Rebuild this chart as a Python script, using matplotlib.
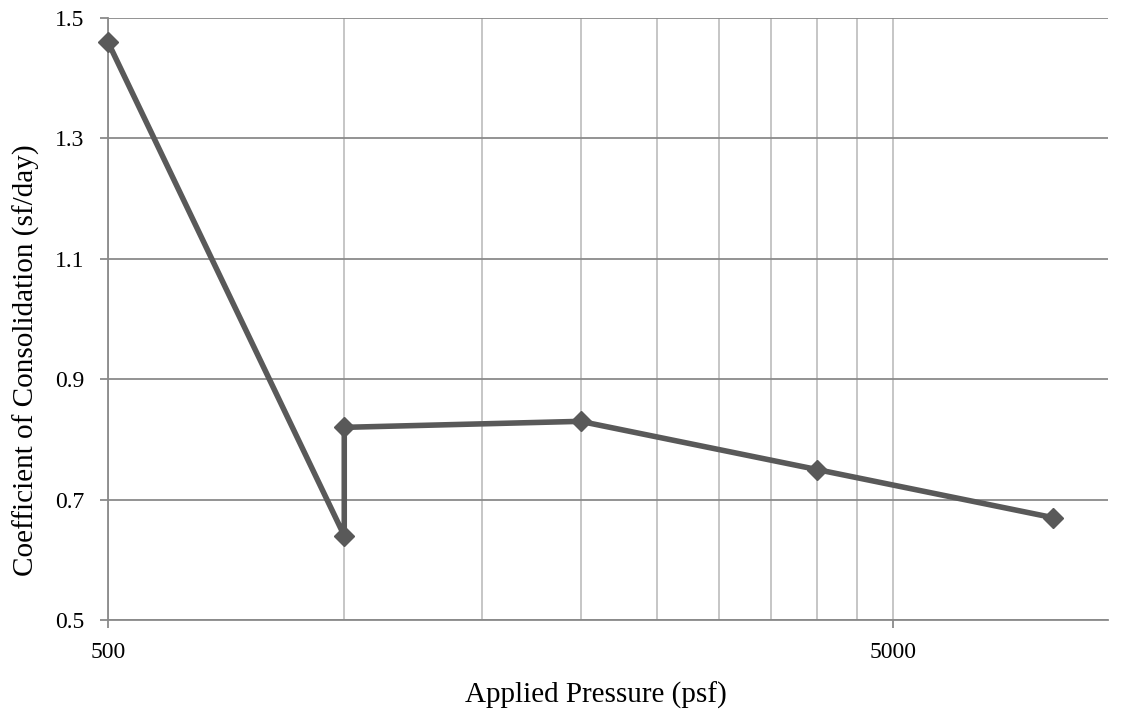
import numpy as np
import matplotlib.pyplot as plt
from matplotlib.ticker import FixedLocator, NullFormatter

# consolidation test results
pressure = [500, 1000, 1000, 2000, 4000, 8000]   # psf
cv = [1.46, 0.64, 0.82, 0.83, 0.75, 0.67]         # sf/day

xmajor = [500, 5000]
xminor = [1000, 1500, 2000, 2500, 3000, 3500, 4000, 4500]
yticks = [0.5, 0.7, 0.9, 1.1, 1.3, 1.5]

plt.rcParams['font.family'] = ['Liberation Serif', 'DejaVu Serif']

fig = plt.figure(figsize=(11.25, 7.17), dpi=100)
ax = fig.add_axes([108/1125, 1 - 620/717, 1000/1125, 602/717])

ax.set_xscale('log')
ax.set_xlim(500, 9400)
ax.set_ylim(0.5, 1.5)

ax.xaxis.set_major_locator(FixedLocator(xmajor))
ax.xaxis.set_minor_locator(FixedLocator(xminor))
ax.xaxis.set_major_formatter(plt.FixedFormatter(['500', '5000']))
ax.xaxis.set_minor_formatter(NullFormatter())
ax.set_yticks(yticks)
ax.set_yticklabels(['%.1f' % v for v in yticks])

# gridlines
ax.grid(True, axis='y', color='#8a8a8a', linewidth=1.3)
ax.grid(True, axis='x', which='both', color='#c2c2c2', linewidth=1.3)
ax.set_axisbelow(True)

for s in ['top', 'right']:
    ax.spines[s].set_visible(False)
for s in ['left', 'bottom']:
    ax.spines[s].set_color('#8a8a8a')
    ax.spines[s].set_linewidth(1.3)

ax.tick_params(axis='both', which='major', direction='out', length=6,
               width=1.3, color='#8a8a8a', labelsize=17)
ax.tick_params(axis='y', which='major', pad=11)
ax.tick_params(axis='x', which='minor', length=0)
ax.tick_params(axis='x', which='major', pad=10)

ax.plot(pressure, cv, color='#595959', linewidth=4, marker='D',
        markersize=10.5, clip_on=False, zorder=5)

ax.set_xlabel('Applied Pressure (psf)', fontsize=21)
ax.xaxis.set_label_coords(0.488, -0.103)
ax.set_ylabel('Coefficient of Consolidation (sf/day)', fontsize=21, va='center')
ax.yaxis.set_label_coords(-0.082, 0.432)

fig.savefig('out.png', dpi=100)
